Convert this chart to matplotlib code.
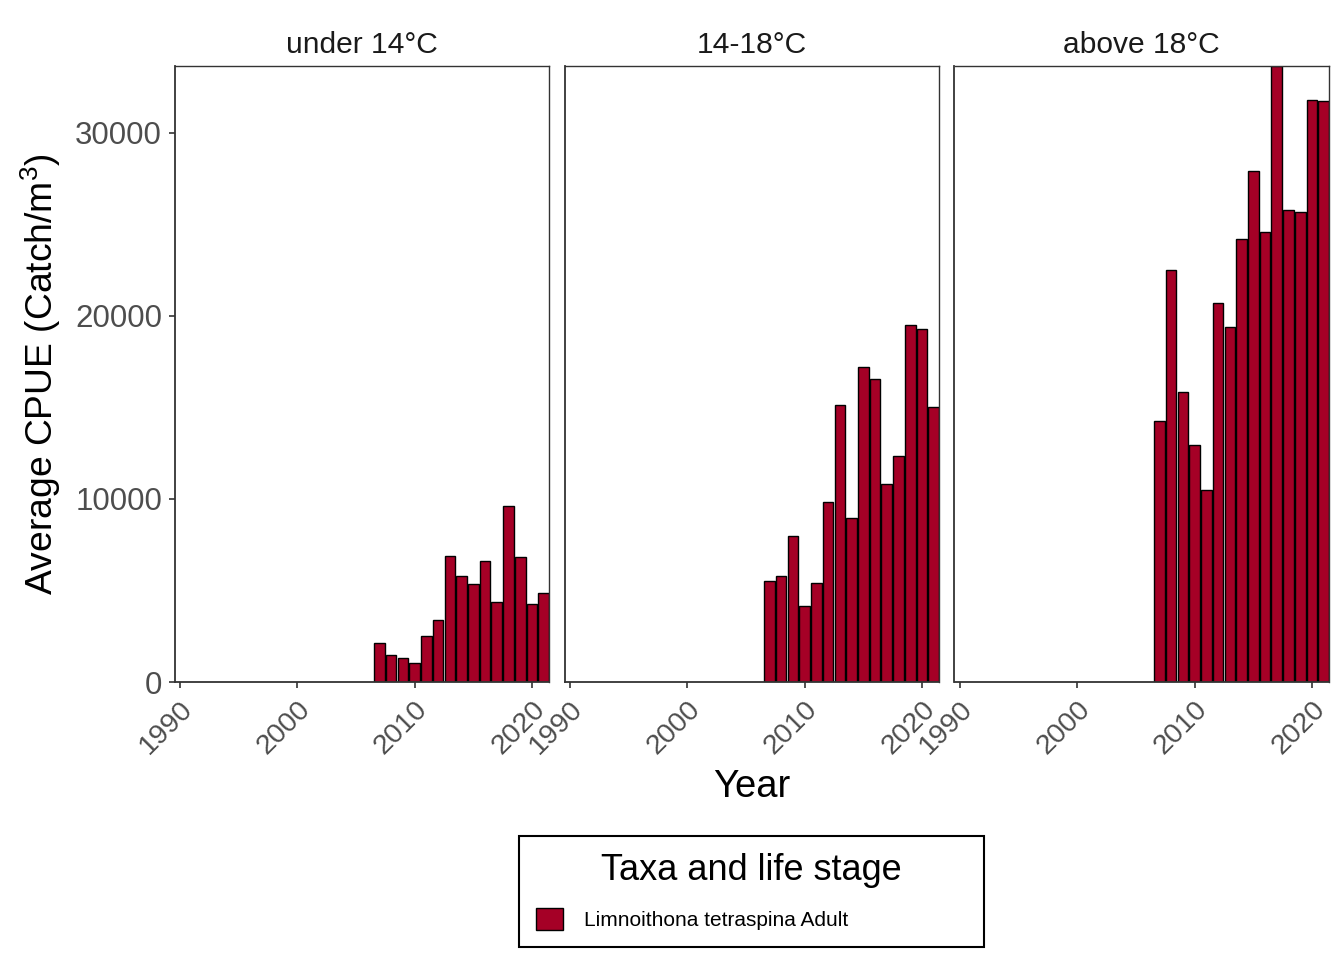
import matplotlib
matplotlib.use("Agg")
import matplotlib.pyplot as plt
from matplotlib.patches import Patch

plt.rcParams['font.family'] = ['Liberation Sans', 'DejaVu Sans']
plt.rcParams['mathtext.default'] = 'regular'

years = list(range(2007, 2022))
panel_titles = ["under 14°C", "14-18°C", "above 18°C"]
cpue_under14 = [2140, 1500, 1320, 1050, 2520, 3400, 6900, 5800, 5370, 6590, 4380, 9590, 6840, 4270, 4870]
cpue_14_18 = [5530, 5800, 7990, 4160, 5420, 9850, 15150, 8970, 17220, 16570, 10830, 12360, 19480, 19300, 15040]
cpue_above18 = [14270, 22480, 15810, 12960, 10460, 20720, 19360, 24180, 27900, 24600, 33640, 25750, 25650, 31800, 31750]
series = [cpue_under14, cpue_14_18, cpue_above18]
x_ticks = [1990, 2000, 2010, 2020]
y_ticks = [0, 10000, 20000, 30000]
legend_label = "Limnoithona tetraspina Adult"
bar_color = "#A50026"

W, H = 1344, 960
fig = plt.figure(figsize=(W / 100, H / 100), dpi=100)

lefts = [174.5, 564.5, 954.5]
pw = 374.5
top, bottom = 66.0, 682.0
for i, (left, vals, title) in enumerate(zip(lefts, series, panel_titles)):
    ax = fig.add_axes([left / W, (H - bottom) / H, pw / W, (bottom - top) / H])
    ax.bar(years, vals, width=0.9, color=bar_color, edgecolor="black", linewidth=1.0, zorder=2)
    ax.set_xlim(1989.55, 2021.45)
    ax.set_ylim(0, 33640)
    ax.set_xticks(x_ticks)
    ax.set_xticklabels([str(t) for t in x_ticks], rotation=45, ha="right", va="top",
                       rotation_mode="anchor", fontsize=20.5, color="#4D4D4D")
    ax.tick_params(axis="x", length=4, width=1.2, color="#333333", pad=6)
    if i == 0:
        ax.set_yticks(y_ticks)
        ax.set_yticklabels([str(t) for t in y_ticks], fontsize=22.5, color="#4D4D4D")
        ax.tick_params(axis="y", length=4, width=1.2, color="#333333", pad=5)
    else:
        ax.set_yticks([])
    for side in ["top", "right"]:
        ax.spines[side].set_color("#333333")
        ax.spines[side].set_linewidth(1.0)
    for side in ["left", "bottom"]:
        ax.spines[side].set_color("#333333")
        ax.spines[side].set_linewidth(1.3)
    ax.set_title(title, fontsize=21.6, color="#1A1A1A", pad=9.5)

fig.text(751.5 / W, 1 - 787 / H, "Year", fontsize=27.5, ha="center", va="center")
fig.text(41 / W, 1 - 374 / H, r"Average CPUE (Catch/m$^{3}$)", fontsize=26.8,
         rotation=90, ha="center", va="center")

handles = [Patch(facecolor=bar_color, edgecolor="black", linewidth=1.0)]
leg = fig.legend(handles, [legend_label], title="Taxa and life stage",
                 loc="upper left", bbox_to_anchor=(518.7 / W, 1 - 945 / H, 465.3 / W, 109 / H),
                 mode="expand", fontsize=15, title_fontsize=26, frameon=True, fancybox=False,
                 edgecolor="black", framealpha=1, borderpad=0.82, labelspacing=0.95,
                 handlelength=1.3, handleheight=1.25, handletextpad=1.0, borderaxespad=0)
leg.get_frame().set_linewidth(1.5)

fig.savefig("out.png", dpi=100, facecolor="white")
